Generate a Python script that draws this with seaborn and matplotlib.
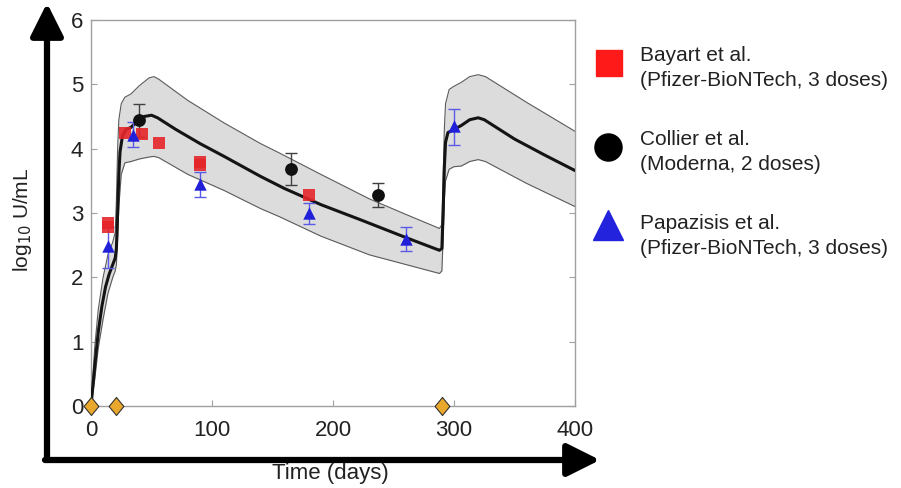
import numpy as np
import pandas as pd
import matplotlib
matplotlib.use("Agg")
import matplotlib.pyplot as plt
import seaborn as sns
from matplotlib.lines import Line2D
from matplotlib.patches import FancyArrowPatch

# ---------------- data ----------------
mean_days = [0, 3, 6, 9, 12, 15, 18, 20, 21, 22, 23, 24, 26, 29, 33, 38, 44, 50, 55, 70, 90, 110,
             140, 160, 190, 222, 260, 288, 290, 291, 292, 293, 295, 300, 306, 313, 320, 325, 350, 375, 400]
mean_vals = [0.0, 0.6, 1.15, 1.55, 1.85, 2.05, 2.2, 2.3, 2.45, 3.0, 3.6, 3.95, 4.2, 4.3, 4.33, 4.42, 4.5, 4.52,
             4.48, 4.3, 4.08, 3.88, 3.57, 3.38, 3.13, 2.9, 2.62, 2.42, 2.45, 3.0, 3.7, 4.1, 4.25, 4.3, 4.36,
             4.45, 4.48, 4.45, 4.15, 3.9, 3.66]

band_days = [0, 3, 6, 10, 14, 18, 20, 21, 22, 23, 25, 28, 33, 40, 48, 52, 56, 80, 110, 140, 156, 190,
             230, 260, 288, 290, 291, 292, 293, 296, 300, 306, 313, 320, 326, 360, 400]
upper_vals = [0.0, 0.9, 1.5, 2.0, 2.35, 2.55, 2.7, 3.2, 4.0, 4.45, 4.7, 4.8, 4.85, 4.98, 5.1, 5.12, 5.08,
              4.75, 4.4, 4.08, 3.93, 3.6, 3.22, 2.98, 2.76, 2.82, 3.5, 4.3, 4.7, 4.92, 4.97, 5.03, 5.12,
              5.15, 5.12, 4.72, 4.27]
lower_vals = [0.0, 0.4, 0.9, 1.35, 1.75, 2.0, 2.1, 2.2, 2.6, 3.1, 3.6, 3.78, 3.8, 3.84, 3.87, 3.88, 3.86,
              3.6, 3.35, 3.07, 2.94, 2.64, 2.35, 2.2, 2.06, 2.1, 2.6, 3.2, 3.5, 3.68, 3.72, 3.73, 3.8,
              3.83, 3.8, 3.46, 3.1]

bayart_days = [14, 14, 28, 42, 56, 90, 90, 180]
bayart_vals = [2.84, 2.78, 4.25, 4.23, 4.09, 3.79, 3.74, 3.28]

collier_days = [40, 165, 237]
collier_vals = [4.45, 3.69, 3.28]
collier_hi = [4.69, 3.93, 3.46]
collier_lo = [4.18, 3.44, 3.10]

papa_days = [14, 35, 90, 180, 260, 300]
papa_vals = [2.48, 4.22, 3.45, 3.0, 2.6, 4.35]
papa_hi = [2.79, 4.41, 3.63, 3.15, 2.78, 4.61]
papa_lo = [2.14, 4.02, 3.25, 2.83, 2.41, 4.06]

dose_days = [0, 21, 290]

legend_labels = ["Bayart et al.\n(Pfizer-BioNTech, 3 doses)",
                 "Collier et al.\n(Moderna, 2 doses)",
                 "Papazisis et al.\n(Pfizer-BioNTech, 3 doses)"]

x_ticks = [0, 100, 200, 300, 400]
y_ticks = [0, 1, 2, 3, 4, 5, 6]

# ---------------- style ----------------
sns.set_theme(style="white")
plt.rcParams['font.family'] = ['Liberation Sans', 'DejaVu Sans']

RED = "#e5252a"
BLUE = "#2020d8"
EBLUE = "#5a5ae6"
GRAY_EDGE = "#5a5a5a"
FILL = "#dcdcdc"
ORANGE = "#e9a82b"

fig = plt.figure(figsize=(9.01, 4.88), dpi=100)
ax = fig.add_axes([91 / 901, 1 - 406 / 488, (575 - 91) / 901, (406 - 20) / 488])

band = pd.DataFrame({"day": band_days, "upper": upper_vals, "lower": lower_vals})
mean_df = pd.DataFrame({"day": mean_days, "value": mean_vals})

ax.fill_between(band["day"], band["lower"], band["upper"], color=FILL, lw=0, zorder=1)
sns.lineplot(data=band, x="day", y="upper", color=GRAY_EDGE, lw=0.8, ax=ax, zorder=2)
sns.lineplot(data=band, x="day", y="lower", color=GRAY_EDGE, lw=0.8, ax=ax, zorder=2)
sns.lineplot(data=mean_df, x="day", y="value", color="#141414", lw=2.2, ax=ax, zorder=3)

# error bars
c_err = [np.array(collier_vals) - np.array(collier_lo), np.array(collier_hi) - np.array(collier_vals)]
ax.errorbar(collier_days, collier_vals, yerr=c_err, fmt="none", ecolor="#404040", elinewidth=1.0,
            capsize=4, capthick=1.0, zorder=4)
p_err = [np.array(papa_vals) - np.array(papa_lo), np.array(papa_hi) - np.array(papa_vals)]
ax.errorbar(papa_days, papa_vals, yerr=p_err, fmt="none", ecolor=EBLUE, elinewidth=1.0,
            capsize=4, capthick=1.0, zorder=4)

sns.scatterplot(x=bayart_days, y=bayart_vals, marker="s", s=70, color=RED, edgecolor=RED,
                linewidth=0, alpha=0.9, ax=ax, zorder=5)
sns.scatterplot(x=collier_days, y=collier_vals, marker="o", s=85, color="#111111", edgecolor="#111111",
                linewidth=0, ax=ax, zorder=5)
sns.scatterplot(x=papa_days, y=papa_vals, marker="^", s=80, color=BLUE, edgecolor=BLUE,
                linewidth=0, ax=ax, zorder=6)

# dose diamonds
diamond = [(0, 1), (0.82, 0), (0, -1), (-0.82, 0), (0, 1)]
ax.plot(dose_days, [0] * len(dose_days), linestyle="none", marker=diamond, markersize=13,
        markerfacecolor=ORANGE, markeredgecolor="#333333", markeredgewidth=0.8, clip_on=False, zorder=7)

ax.set_xlim(0, 400)
ax.set_ylim(0, 6)
ax.set_xticks(x_ticks)
ax.set_yticks(y_ticks)
ax.set_xlabel("")
ax.set_ylabel("")
for s in ax.spines.values():
    s.set_color("#a0a0a0")
    s.set_linewidth(1.0)
ax.tick_params(direction="in", length=4, width=0.8, color="#a0a0a0", labelsize=16,
               labelcolor="#222222")
ax.tick_params(axis="x", pad=10)
ax.tick_params(axis="y", pad=5.5)
ax.tick_params(axis="both", which="both", bottom=True, left=True, top=False, right=True)

# big arrows
corner = (47 / 901, 1 - 460 / 488)
fig.patches.append(FancyArrowPatch(corner, (47 / 901, 1 - 3 / 488), transform=fig.transFigure,
                                   arrowstyle="-|>,head_length=1.0,head_width=0.5", mutation_scale=20,
                                   lw=4.5, color="black", shrinkA=0, shrinkB=0))
fig.patches.append(FancyArrowPatch((45 / 901, 1 - 460 / 488), (600 / 901, 1 - 460 / 488),
                                   transform=fig.transFigure,
                                   arrowstyle="-|>,head_length=1.0,head_width=0.5", mutation_scale=20,
                                   lw=4.5, color="black", shrinkA=0, shrinkB=0))

fig.text(23 / 901, 1 - 220 / 488, r"log$_{10}$ U/mL", rotation=90, ha="center", va="center",
         fontsize=15, color="#222222")
fig.text(330 / 901, 1 - 474 / 488, "Time (days)", ha="center", va="center", fontsize=16, color="#222222")

# legend (manual)
leg_marker_pos = [(609, 63), (608, 147), (608, 225)]
leg_text_y = [68, 152, 236]
leg_styles = [dict(marker="s", markersize=19, markerfacecolor="#ff1a1a", markeredgecolor="#ff1a1a"),
              dict(marker="o", markersize=19.5, markerfacecolor="black", markeredgecolor="black"),
              dict(marker="^", markersize=22, markerfacecolor="#2323dd", markeredgecolor="#2323dd")]
for (mx, my), ty, st, lab in zip(leg_marker_pos, leg_text_y, leg_styles, legend_labels):
    fig.add_artist(Line2D([mx / 901], [1 - my / 488], transform=fig.transFigure, linestyle="none", **st))
    fig.text(640 / 901, 1 - ty / 488, lab, ha="left", va="center", fontsize=15, linespacing=1.35,
             color="#222222")

fig.savefig("out.png", dpi=100)
